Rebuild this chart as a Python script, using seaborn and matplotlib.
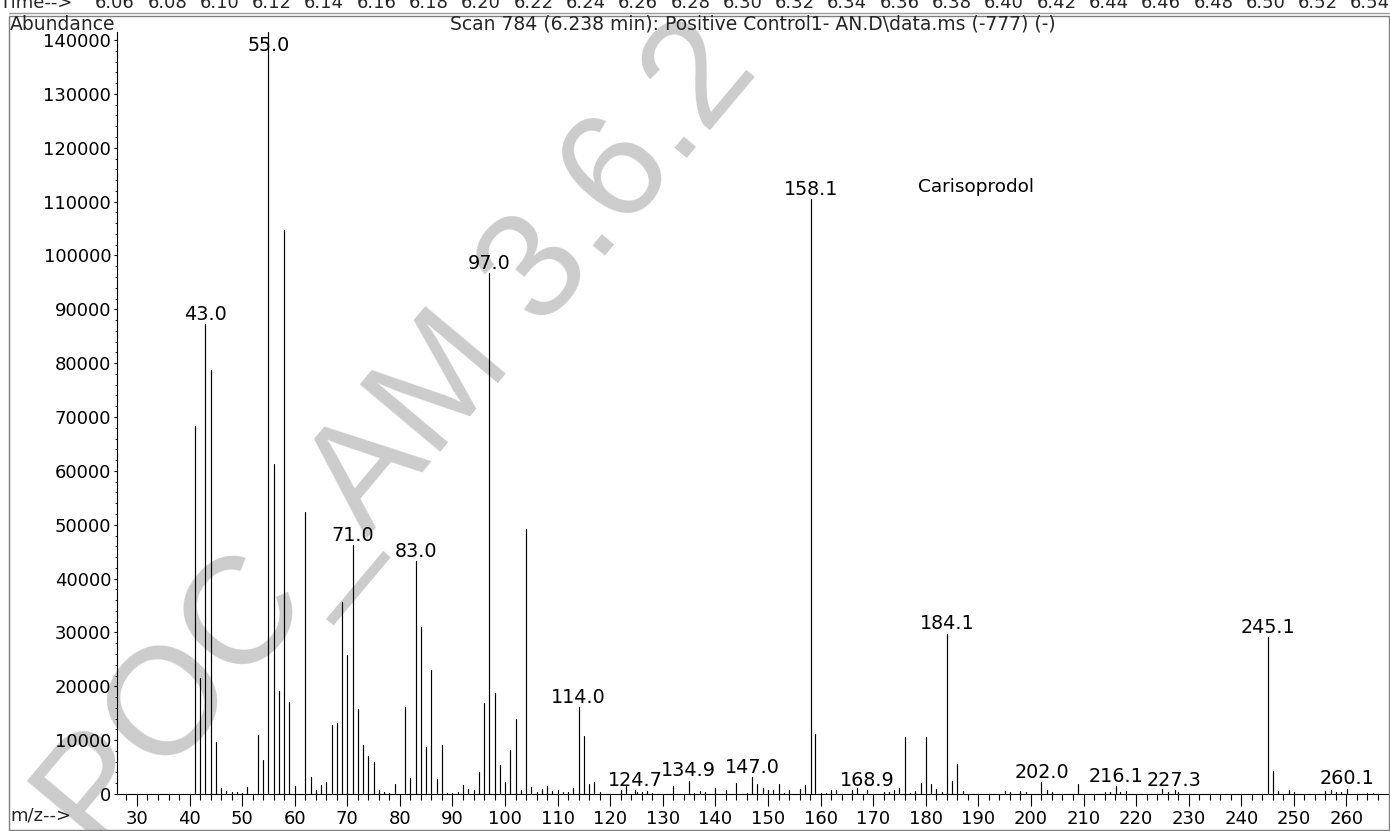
import matplotlib
matplotlib.use("Agg")
import matplotlib.pyplot as plt
import seaborn as sns
import pandas as pd
from matplotlib.patches import Rectangle
from matplotlib.lines import Line2D
from matplotlib.ticker import MultipleLocator, StrMethodFormatter

# ---------------- data ----------------
mz = [41, 42, 43.0, 44, 45, 46, 47, 48, 49, 50, 51, 53, 54, 55.0, 56, 57, 58, 59, 60,
      62, 63, 64, 65, 66, 67, 68, 69, 70, 71.0, 72, 73, 74, 75, 76, 77, 78, 79,
      81, 82, 83.0, 84, 85, 86, 87, 88, 89, 90, 91, 92, 93, 94, 95, 96, 97.0, 98, 99,
      100, 101, 102, 103, 104, 105, 106, 107, 108, 109, 110, 111, 112, 113, 114.0, 115,
      116, 117, 118, 122, 123, 124.7, 125, 126, 127, 128, 132, 134.9, 136, 137, 138,
      140, 142, 144, 146, 147.0, 148, 149, 150, 151, 152, 153, 154, 156, 157, 158.1,
      159, 160, 161, 162, 163, 166, 167, 168.9, 172, 173, 174, 175, 176, 177, 178,
      179, 180, 181, 182, 183, 184.1, 185, 186, 187, 195, 196, 198, 199, 202.0, 203,
      204, 209, 214, 215, 216.1, 217, 218, 225, 226, 227.3, 228, 245.1, 246, 247, 249,
      250, 256, 257, 258, 259, 260.1, 264, 265]
abundance = [68400, 21600, 87300, 78700, 9700, 1100, 600, 300, 300, 250, 1300, 11000, 6300,
             141500, 61300, 19200, 104700, 17100, 1500,
             52400, 3200, 700, 1700, 2300, 12800, 13200, 35600, 25900, 46200, 15800, 9100,
             7000, 5900, 700, 400, 250, 1900,
             16200, 3000, 43200, 31100, 8800, 23100, 2800, 9100, 200, 200, 300, 1700, 1000,
             700, 4100, 16900, 96700, 18800, 5400,
             2300, 8200, 14000, 700, 49200, 1300, 300, 900, 1400, 500, 700, 300, 300, 1200,
             16100, 10700,
             1900, 2200, 300, 700, 1400, 700, 300, 300, 500, 200, 1400, 2500, 200, 600, 300,
             1100, 800, 2100, 200, 3100, 1800, 1200, 700, 800, 1800, 200, 800, 900, 1700,
             110500,
             11100, 200, 200, 700, 800, 800, 1100, 800, 400, 300, 800, 1100, 10600, 200, 500,
             2100, 10600, 1800, 1000, 300, 29800, 2500, 5600, 600, 600, 300, 600, 300, 2200,
             800,
             300, 1900, 300, 300, 1500, 300, 600, 1000, 300, 800, 300, 29100, 4300, 500, 800,
             300, 600, 800, 300, 300, 1000, 200, 200]
labeled_mz = [43.0, 55.0, 71.0, 83.0, 97.0, 114.0, 124.7, 134.9, 147.0, 158.1, 168.9,
              184.1, 202.0, 216.1, 227.3, 245.1, 260.1]
x_ticks = [30, 40, 50, 60, 70, 80, 90, 100, 110, 120, 130, 140, 150, 160, 170, 180,
           190, 200, 210, 220, 230, 240, 250, 260]
y_ticks = [0, 10000, 20000, 30000, 40000, 50000, 60000, 70000, 80000, 90000, 100000,
           110000, 120000, 130000, 140000]
time_labels = ["6.06", "6.08", "6.10", "6.12", "6.14", "6.16", "6.18", "6.20", "6.22",
               "6.24", "6.26", "6.28", "6.30", "6.32", "6.34", "6.36", "6.38", "6.40",
               "6.42", "6.44", "6.46", "6.48", "6.50", "6.52", "6.54"]
title = "Scan 784 (6.238 min): Positive Control1- AN.D\\data.ms (-777) (-)"
compound = "Carisoprodol"
y_label = "Abundance"
x_label = "m/z-->"
time_label = "Time-->"
watermark = "POC_AM 3.6.2"

# ---------------- style ----------------
sns.set_theme(style="white")
plt.rcParams['font.family'] = ['DejaVu Sans']

W, H = 1390, 831
fig = plt.figure(figsize=(W / 100, H / 100), dpi=100, facecolor="white")

def fx(px):
    return px / W

def fy(py):
    return 1 - py / H

ax_left, ax_right, ax_top, ax_bottom = 117, 1388, 32, 794
ax = fig.add_axes([fx(ax_left), fy(ax_bottom), fx(ax_right - ax_left), (ax_bottom - ax_top) / H])
ax.patch.set_alpha(0)

# watermark behind everything
fig.text(fx(400), fy(439), watermark, rotation=50, rotation_mode="anchor",
         ha="center", va="center", fontsize=110, color="#cccccc", zorder=-5,
         family="Liberation Sans")

# stems
rows = []
for i, (m, a) in enumerate(zip(mz, abundance)):
    rows.append((i, m, 0))
    rows.append((i, m, a))
df = pd.DataFrame(rows, columns=["peak", "mz", "abundance"])
sns.lineplot(data=df, x="mz", y="abundance", units="peak", estimator=None, sort=False,
             color="black", linewidth=0.85, ax=ax, legend=False)

ymax = 141500
ax.set_xlim(26.2, 267.9)
ax.set_ylim(0, ymax)
ax.set_xlabel("")
ax.set_ylabel("")

ax.set_xticks(x_ticks)
ax.xaxis.set_minor_locator(MultipleLocator(2))
ax.set_yticks(y_ticks)
ax.yaxis.set_minor_locator(MultipleLocator(2000))
ax.yaxis.set_major_formatter(StrMethodFormatter("{x:.0f}"))

for s in ["top", "right"]:
    ax.spines[s].set_visible(False)
for s in ["left", "bottom"]:
    ax.spines[s].set_color("black")
    ax.spines[s].set_linewidth(0.8)

ax.tick_params(axis="x", which="major", direction="out", length=8.6, width=0.8,
               labelsize=13, pad=3, colors="black", bottom=True)
ax.tick_params(axis="x", which="minor", direction="out", length=4.3, width=0.8,
               colors="black", bottom=True)
ax.tick_params(axis="y", which="major", direction="out", length=2.2, width=0.8,
               labelsize=13, pad=2, colors="black", left=True)
ax.tick_params(axis="y", which="minor", direction="out", length=1.4, width=0.6,
               colors="black", left=True)

# peak labels
for m in labeled_mz:
    a = abundance[mz.index(m)]
    if a > 0.97 * ymax:
        ax.annotate(f"{m:.1f}", (m, ymax), xytext=(0, -3), textcoords="offset points",
                    ha="center", va="top", fontsize=13.8, color="black", zorder=5)
    else:
        ax.annotate(f"{m:.1f}", (m, a), xytext=(0, 3), textcoords="offset points",
                    ha="center", va="baseline", fontsize=13.8, color="black", zorder=5)

ax.text(178.5, 112700, compound, ha="left", va="center", fontsize=13.3, color="black")

# header / footer texts
fig.text(fx(10), fy(24), y_label, ha="left", va="center", fontsize=13.5)
fig.text(fx((ax_left + ax_right) / 2), fy(24), title, ha="center", va="center", fontsize=13.5)
fig.text(fx(10), fy(815), x_label, ha="left", va="center", fontsize=13)

fig.text(fx(0), fy(8), time_label, ha="left", va="baseline", fontsize=13)
for i, t in enumerate(time_labels):
    fig.text(fx(115 + 52.3 * i), fy(8), t, ha="center", va="baseline", fontsize=13)

# frame
fig.add_artist(Rectangle((fx(9), fy(830)), fx(1389 - 9), (830 - 16) / H, fill=False,
                         edgecolor="#7f7f7f", linewidth=1.0, transform=fig.transFigure))
fig.add_artist(Line2D([fx(9), fx(1389)], [fy(13), fy(13)], color="#9a9a9a", linewidth=1.0,
                      transform=fig.transFigure))

fig.savefig("out.png", dpi=100, facecolor="white")
